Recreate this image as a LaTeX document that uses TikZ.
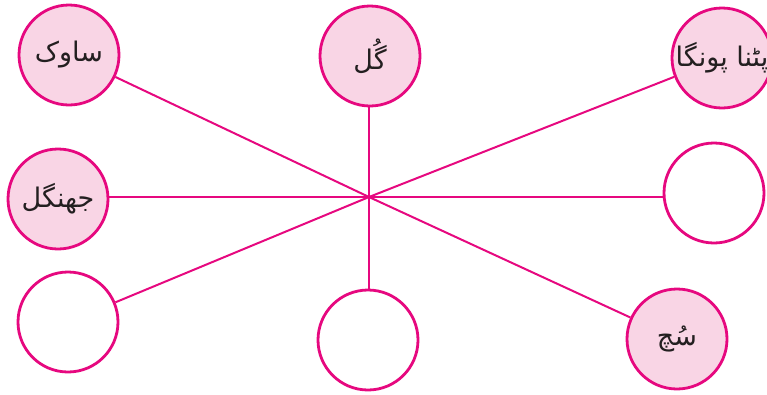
\documentclass[tikz,border=0pt]{standalone}
\usepackage{fontspec}
\newfontfamily\urdufont[Script=Arabic]{DejaVu Sans}
\TeXXeTstate=1
\usetikzlibrary{positioning}
\definecolor{rim}{HTML}{E6087F}
\definecolor{blush}{HTML}{F9D5E5}
\definecolor{ink}{HTML}{231F20}
\tikzset{
  bubble/.style={circle, draw=rim, line width=2.8pt, minimum size=100pt, inner sep=0pt},
  word/.style={bubble, fill=blush, text=ink, font=\urdufont\fontsize{27}{30}\selectfont},
  spoke/.style={rim, line width=2pt}
}

\begin{document}
\begin{tikzpicture}[x=1pt, y=-1pt]
    \useasboundingbox (0,0) rectangle (767,394);

    % Circles with words
    \node[word] (saok) at (69,55) {\beginR ساوک\endR};
    \node[word] (gul) at (370,56) {\beginR گُل\endR};
    \node[word] (patna) at (722,58) {\beginR پٹنا پونگا\endR};
    \node[word] (jhangal) at (58,199) {\beginR جھنگل\endR};
    \node[word] (such) at (677,339) {\beginR سُچ\endR};

    % Empty circles
    \node[bubble] (emptyR) at (714,193) {};
    \node[bubble] (emptyBL) at (68,322) {};
    \node[bubble] (emptyB) at (368,340) {};

    % Spokes
    \coordinate (hub) at (369,197);
    \draw[spoke] (hub) -- (saok);
    \draw[spoke] (hub) -- (hub |- gul.south);
    \draw[spoke] (hub) -- (patna);
    \draw[spoke] (hub) -- (hub -| jhangal.east);
    \draw[spoke] (hub) -- (hub -| emptyR.west);
    \draw[spoke] (hub) -- (emptyBL);
    \draw[spoke] (hub) -- (hub |- emptyB.north);
    \draw[spoke] (hub) -- (such);
\end{tikzpicture}
\end{document}
